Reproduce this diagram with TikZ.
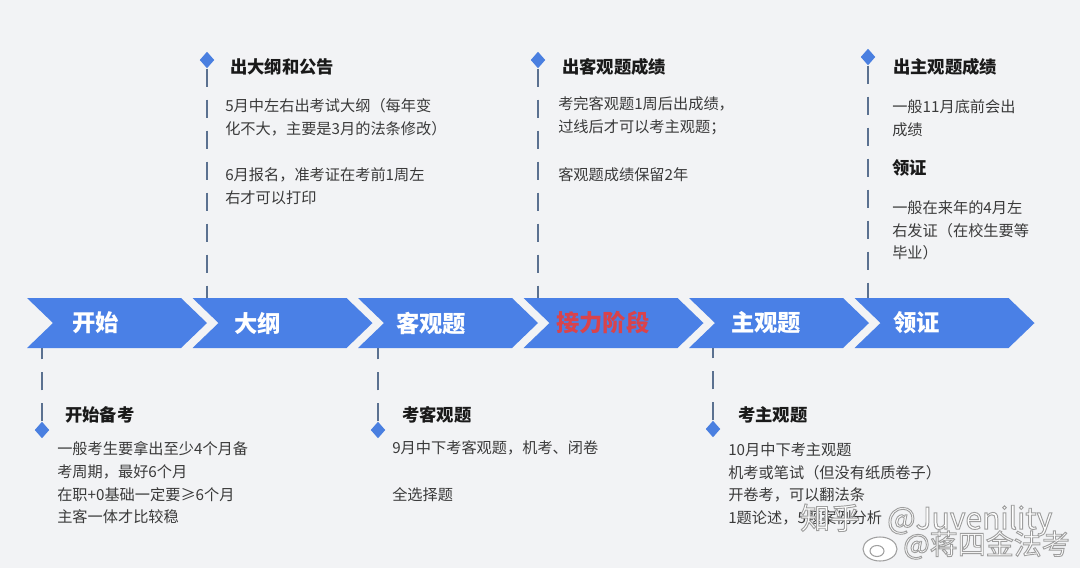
\documentclass[tikz,border=0pt]{standalone}
\usepackage{fontspec}
\setmainfont{Noto Sans CJK SC}
\usetikzlibrary{shapes.geometric}
\definecolor{bgc}{HTML}{F2F3F5}
\definecolor{chev}{HTML}{4A80E6}
\definecolor{diab}{HTML}{4A7FE0}
\definecolor{dline}{HTML}{5B7190}
\definecolor{txtc}{HTML}{3A3A3A}
\definecolor{ttlc}{HTML}{1A1A1A}
\definecolor{redt}{HTML}{D9434B}
\definecolor{wmk}{HTML}{A0A0A0}
\newcommand{\outlinetext}[1]{\special{pdf:literal direct 2 Tr 0.7 w 0.62 0.62 0.62 RG 1 1 1 rg}#1\special{pdf:literal direct 0 Tr 0 0 0 RG 0 0 0 rg}}
\tikzset{
  chevshape/.style={fill=chev},
  chevlabel/.style={anchor=west, text=white, font=\fontsize{17.5}{20}\selectfont\bfseries, inner sep=0},
  ttl/.style={anchor=west, text=ttlc, font=\fontsize{13}{16}\selectfont\bfseries, inner sep=0},
  bodytxt/.style={anchor=west, text=txtc, font=\fontsize{11.4}{17}\selectfont, inner sep=0, align=left},
  dmark/.style={diamond, fill=diab, inner sep=0, minimum width=11pt, minimum height=12.5pt},
  dl/.style={draw=dline, line width=2.2pt, dash pattern=on 13.5pt off 9.75pt},
  wm/.style={anchor=west, inner sep=0, font=\fontsize{22.5}{26}\selectfont},
  wmlogo/.style={draw=wmk, fill=white, line width=0.8pt},
}
\begin{document}
\begin{tikzpicture}[x=0.75pt,y=-0.75pt]
\useasboundingbox (0,0) rectangle (1080,568);
\fill[bgc] (0,0) rectangle (1080,568);

% chevrons
\foreach \i in {0,...,5}{
  \pgfmathsetmacro{\xo}{27+165.5*\i}
  \fill[chevshape] (\xo,298) -- ++(154,0) -- ++(26,25) -- ++(-26,25) -- ++(-154,0) -- ++(26,-25) -- cycle;
}
\node[chevlabel] (c1) at (72,323) {开始};
\node[chevlabel] (c2) at (234,323) {大纲};
\node[chevlabel] (c3) at (396,323) {客观题};
\node[chevlabel, text=redt] (c4) at (556,323) {接力阶段};
\node[chevlabel] (c5) at (731,323) {主观题};
\node[chevlabel] (c6) at (893,323) {领证};

% connector end points on the band
\coordinate (ta) at (207,298);
\coordinate (tb) at (538,298);
\coordinate (tc) at (868,298);
\coordinate (ba) at (42,348);
\coordinate (bb) at (378,348);
\coordinate (bc) at (713,348);

% diamonds
\node[dmark] (da) at (207,60) {};
\node[dmark] (db) at (538,60) {};
\node[dmark] (dc) at (868,57) {};
\node[dmark] (dd) at (42,430) {};
\node[dmark] (de) at (378,430) {};
\node[dmark] (df) at (713,429) {};

% dashed connectors
\draw[dl] (da) -- (ta);
\draw[dl] (db) -- (tb);
\draw[dl] (dc) -- (tc);
\draw[dl] (dd) -- (ba);
\draw[dl] (de) -- (bb);
\draw[dl] (df) -- (bc);

% top block A
\node[ttl] (ta0) at (230,67) {出大纲和公告};
\node[bodytxt] (ta1) at (225,117) {5月中左右出考试大纲（每年变\\化不大，主要是3月的法条修改）};
\node[bodytxt] (ta2) at (225,186.5) {6月报名，准考证在考前1周左\\右才可以打印};

% top block B
\node[ttl] (tb0) at (562,67) {出客观题成绩};
\node[bodytxt] (tb1) at (558,116) {考完客观题1周后出成绩，\\过线后才可以考主观题；};
\node[bodytxt] (tb2) at (558,175) {客观题成绩保留2年};

% top block C
\node[ttl] (tc0) at (893,67) {出主观题成绩};
\node[bodytxt] (tc1) at (892,118.5) {一般11月底前会出\\成绩};
\node[ttl] (tc2) at (892,168) {领证};
\node[bodytxt] (tc3) at (892,230.5) {一般在来年的4月左\\右发证（在校生要等\\毕业）};

% bottom block D
\node[ttl] (bd0) at (65,415) {开始备考};
\node[bodytxt] (bd1) at (57,483) {一般考生要拿出至少4个月备\\考周期，最好6个月\\在职+0基础一定要≥6个月\\主客一体才比较稳};

% bottom block E
\node[ttl] (be0) at (402,415) {考客观题};
\node[bodytxt] (be1) at (392,448) {9月中下考客观题，机考、闭卷};
\node[bodytxt] (be2) at (392,495) {全选择题};

% bottom block F
\node[ttl] (bf0) at (738,415) {考主观题};
\node[bodytxt] (bf1) at (728,484) {10月中下考主观题\\机考或笔试（但没有纸质卷子）\\开卷考，可以翻法条\\1题论述，5题案例分析};

% watermark
\node[wm] (w1) at (800,520) {\outlinetext{知乎\hspace{0.9em}@Juvenility}};
\draw[wmlogo] (880,549) ellipse (17 and 12);
\draw[wmlogo] (877,551) ellipse (7 and 5.5);
\node[wm, font=\fontsize{21}{24}\selectfont] (w2) at (903,545) {\outlinetext{@蒋四金法考}};
\end{tikzpicture}
\end{document}
